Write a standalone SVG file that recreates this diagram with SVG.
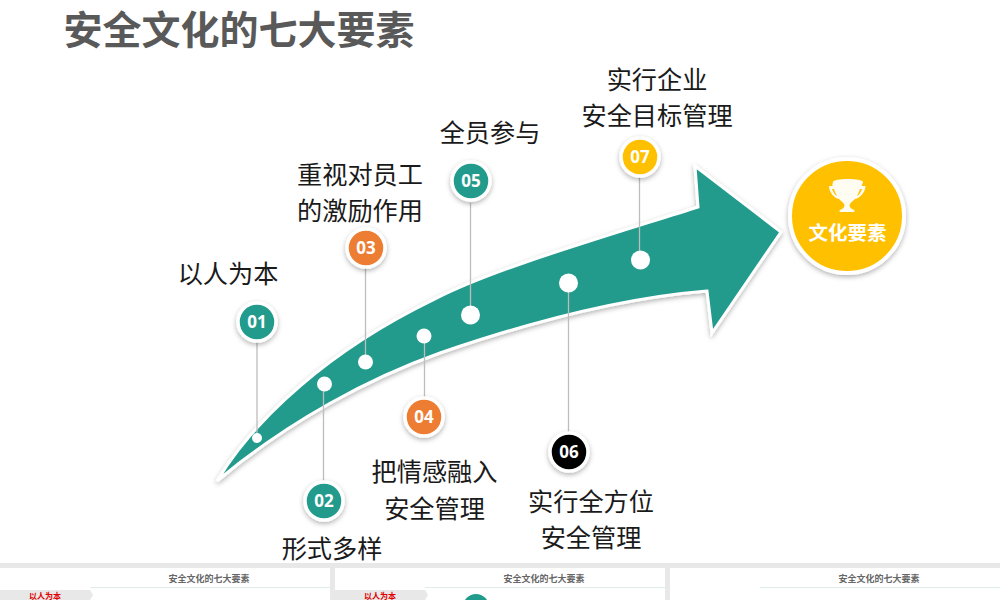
<svg xmlns="http://www.w3.org/2000/svg" width="1000" height="600" viewBox="0 0 1000 600">
<defs>
<filter id="sh" x="-30%" y="-30%" width="160%" height="160%"><feDropShadow dx="0" dy="2" stdDeviation="2.5" flood-color="#000" flood-opacity="0.3"/></filter>
<filter id="ash" x="-10%" y="-10%" width="120%" height="120%"><feDropShadow dx="0" dy="2" stdDeviation="2.5" flood-color="#000" flood-opacity="0.3"/></filter>
</defs>
<style>
text{font-family:"Noto Sans CJK SC","Noto Sans",sans-serif;text-anchor:middle}
.lab{font-size:25.200px;fill:#1a1a1a}
.num{font-size:17px;font-weight:700;fill:#fff;font-family:"Noto Sans","Noto Sans CJK SC",sans-serif}
.badge{stroke:#fff;stroke-width:3.5;filter:url(#sh)}
.ln{stroke:#bdbdbd;stroke-width:1.3;fill:none}
.dot{fill:#fff}
.mini{font-size:9px;font-weight:700;fill:#666}
.tag{font-size:8px;font-weight:700;fill:#e00000}
.rule{stroke:#dfeceb;stroke-width:1}
</style>
<rect width="1000" height="600" fill="#fff"/>
<text x="239" y="44" font-size="39" font-weight="700" fill="#595959">安全文化的七大要素</text>
<path id="arrow" d="M217 481C255 418 330 350 433 300C490 270 600 238 698 207L695 166L781 232L712 333L707 291C620 298 530 322 440 353C370 378 290 420 217 481Z" fill="#209b8c" stroke="#fff" stroke-width="3" filter="url(#ash)"/>
<g id="connectors">
<line class="ln" x1="257" y1="342" x2="257" y2="438"/>
<line class="ln" x1="323.500" y1="384" x2="323.500" y2="482"/>
<line class="ln" x1="365.500" y1="268" x2="365.500" y2="362"/>
<line class="ln" x1="424.500" y1="336" x2="424.500" y2="398"/>
<line class="ln" x1="470.500" y1="203" x2="470.500" y2="315"/>
<line class="ln" x1="568.500" y1="283" x2="568.500" y2="433"/>
<line class="ln" x1="639.500" y1="177" x2="639.500" y2="260"/>
</g>
<circle class="dot" cx="257" cy="438" r="5"/>
<circle class="dot" cx="324.500" cy="384" r="7.500"/>
<circle class="dot" cx="365.500" cy="362" r="7.500"/>
<circle class="dot" cx="424" cy="336" r="7.500"/>
<circle class="dot" cx="470.500" cy="315" r="9.500"/>
<circle class="dot" cx="568.500" cy="283" r="9.500"/>
<circle class="dot" cx="640.500" cy="260" r="9.500"/>
<g id="n01"><circle class="badge" cx="257" cy="322" r="19" fill="#209b8c"/><text class="num" x="257" y="328">01</text><text class="lab" x="228" y="283">以人为本</text></g>
<g id="n02"><circle class="badge" cx="324" cy="501" r="19" fill="#209b8c"/><text class="num" x="324" y="507">02</text><text class="lab" x="332" y="558">形式多样</text></g>
<g id="n03"><circle class="badge" cx="366" cy="248" r="19" fill="#ed7d31"/><text class="num" x="366" y="254">03</text><text class="lab" x="360" y="184">重视对员工</text><text class="lab" x="360" y="220">的激励作用</text></g>
<g id="n04"><circle class="badge" cx="424" cy="417" r="19" fill="#ed7d31"/><text class="num" x="424" y="423">04</text><text class="lab" x="434.500" y="481">把情感融入</text><text class="lab" x="434.500" y="518">安全管理</text></g>
<g id="n05"><circle class="badge" cx="471" cy="181" r="19" fill="#209b8c"/><text class="num" x="471" y="187">05</text><text class="lab" x="490" y="142">全员参与</text></g>
<g id="n06"><circle class="badge" cx="569" cy="452" r="19" fill="#000"/><text class="num" x="569" y="458">06</text><text class="lab" x="591" y="511">实行全方位</text><text class="lab" x="591" y="547">安全管理</text></g>
<g id="n07"><circle class="badge" cx="640" cy="157" r="19" fill="#ffc000"/><text class="num" x="640" y="163">07</text><text class="lab" x="657" y="89">实行企业</text><text class="lab" x="657" y="125">安全目标管理</text></g>
<g id="goal">
<circle cx="847" cy="216" r="57" fill="#ffc000" stroke="#fff" stroke-width="4" filter="url(#sh)"/>
<path d="M833 182C833 178 863 178 863 182C863 183 862 184 861.500 186H865.500C865.500 192 860 198 855 199C853 201 850 203 849.500 205C849.500 207 851 209 854 210C855 211 855 212 853 212H841C839 212 839 211 840 210C843 209 844.500 207 844.500 205C844 203 841 201 839 199C834 198 829 192 829 186H832.500C832 184 833 183 833 182ZM832 189C833 192 835 195 837 196C836 194 834.500 191 834 189ZM862 189H860C859.500 191 858 194 857 196C859 195 861 192 862 189Z" fill="#fff" fill-rule="evenodd" opacity="0.95"/>
<text x="847.500" y="240" font-size="19.500" font-weight="700" fill="#fff">文化要素</text>
</g>
<g id="strip">
<rect x="0" y="563" width="1000" height="37" fill="#e8e8e8"/>
<rect x="0" y="568" width="330" height="32" fill="#fff"/>
<rect x="335" y="568" width="330" height="32" fill="#fff"/>
<rect x="670" y="568" width="330" height="32" fill="#fff"/>
<line class="rule" x1="90" y1="587.500" x2="330" y2="587.500"/>
<line class="rule" x1="425" y1="587.500" x2="665" y2="587.500"/>
<line class="rule" x1="760" y1="587.500" x2="1000" y2="587.500"/>
<text class="mini" x="209" y="582">安全文化的七大要素</text>
<text class="mini" x="544" y="582">安全文化的七大要素</text>
<text class="mini" x="879" y="582">安全文化的七大要素</text>
<path d="M0 590H90L93 595L90 600H0Z" fill="#e8e8e8"/>
<path d="M335 590H425L428 595L425 600H335Z" fill="#e8e8e8"/>
<text class="tag" x="45" y="599">以人为本</text>
<text class="tag" x="380" y="599">以人为本</text>
<circle cx="476" cy="607" r="13" fill="#209b8c"/>
</g>
</svg>
